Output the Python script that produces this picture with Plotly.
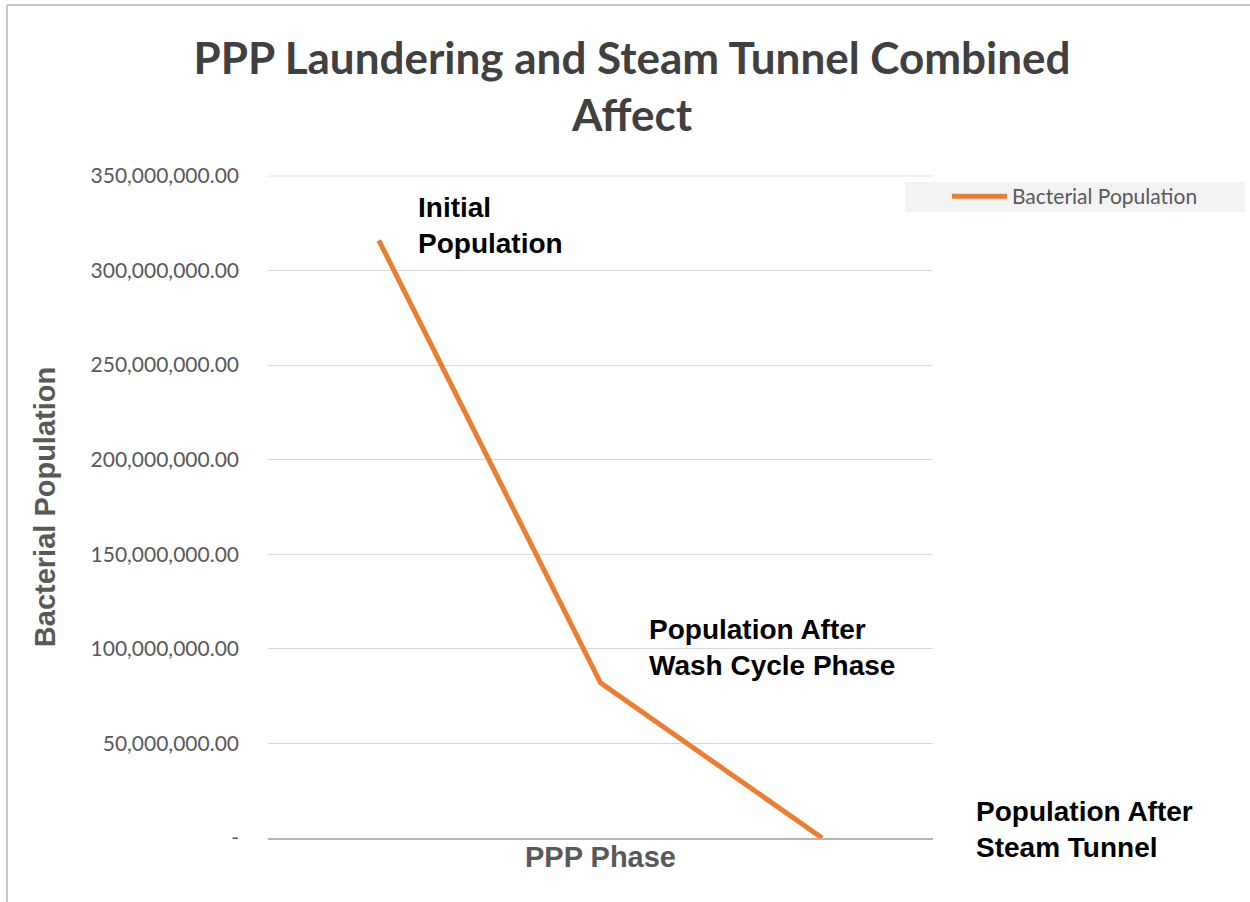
import plotly.graph_objects as go

# data
fases = ["Initial Population", "Population After Wash Cycle Phase", "Population After Steam Tunnel"]
rotulos = ["Initial<br>Population", "Population After<br>Wash Cycle Phase", "Population After<br>Steam Tunnel"]
populacao = [316000000, 82000000, 0]

ticks_y = [0, 50000000, 100000000, 150000000, 200000000, 250000000, 300000000, 350000000]
ticks_txt = ["-", "50,000,000.00", "100,000,000.00", "150,000,000.00", "200,000,000.00",
             "250,000,000.00", "300,000,000.00", "350,000,000.00"]

LARANJA = "#ed7d31"
CINZA_TXT = "#595959"

# deslocamento de cada rotulo em px (estilo)
desloc = [(37, 15), (46, 35), (152, 9)]

fig = go.Figure(go.Scatter(
    x=fases, y=populacao, mode="lines", name="Bacterial Population",
    line=dict(color=LARANJA, width=5),
))

for f, r, p, (dx, dy) in zip(fases, rotulos, populacao, desloc):
    fig.add_annotation(
        x=f, y=p, text="<b>" + r + "</b>", showarrow=False, align="left",
        xanchor="left", yanchor="middle", xshift=dx, yshift=dy,
        font=dict(family="Liberation Sans, Arial", size=28, color="#000000"),
    )

fig.update_layout(
    width=1250, height=902,
    margin=dict(l=268, r=317, t=176, b=64),
    paper_bgcolor="white", plot_bgcolor="white",
    title=dict(
        text="<b>PPP Laundering and Steam Tunnel Combined<br>Affect</b>",
        x=0.5056, xanchor="center", y=0.918, yanchor="middle",
        font=dict(family="Lato, Open Sans", size=44, color="#404040"),
    ),
    showlegend=True,
    legend=dict(
        x=1.021, y=1.0, xanchor="left", yanchor="top", xref="paper",
        bgcolor="rgba(0,0,0,0)", font=dict(family="Lato, Open Sans", size=21, color=CINZA_TXT),
        itemwidth=55,
    ),
    xaxis=dict(
        range=[-0.5, 2.5], showticklabels=False, showgrid=False,
        showline=True, linecolor="#b4b4b4", linewidth=1.5, ticks="",
        title=dict(text="<b>PPP Phase</b>", standoff=8,
                   font=dict(family="Liberation Sans, Arial", size=29, color=CINZA_TXT)),
    ),
    yaxis=dict(
        range=[0, 350000000], tickvals=ticks_y, ticktext=ticks_txt,
        showgrid=True, gridcolor="#d9d9d9", gridwidth=1, zeroline=False,
        ticks="", ticklabelstandoff=28,
        tickfont=dict(family="Lato, Open Sans", size=21, color=CINZA_TXT),
        title=dict(text="<b>Bacterial Population</b>", standoff=26,
                   font=dict(family="Liberation Sans, Arial", size=29, color=CINZA_TXT)),
    ),
)

# linha de grade do topo (350M), que o plotly nao desenha na borda
fig.add_shape(type="line", xref="paper", yref="paper", layer="below",
              x0=0, x1=1, y0=1, y1=1, line=dict(color="#e4e4e4", width=1))

# fundo cinza da legenda
fig.add_shape(type="rect", xref="paper", yref="paper", layer="below",
              x0=(905 - 268) / 665, x1=(1245 - 268) / 665,
              y0=1 - (212 - 176) / 662, y1=1 - (182 - 176) / 662,
              fillcolor="#f3f3f3", line=dict(width=0))

# moldura da area do grafico (borda esquerda e superior)
xb = (7 - 268) / 665
yb = 1 + (176 - 5) / 662
fig.add_shape(type="line", xref="paper", yref="paper",
              x0=xb, x1=xb, y0=-64 / 662, y1=yb,
              line=dict(color="#c8c8c8", width=2))
fig.add_shape(type="line", xref="paper", yref="paper",
              x0=xb, x1=1 + 317 / 665, y0=yb, y1=yb,
              line=dict(color="#c8c8c8", width=2))

fig.write_html("out.html", config={"displayModeBar": False},
               post_script="document.body.style.margin='0';")
